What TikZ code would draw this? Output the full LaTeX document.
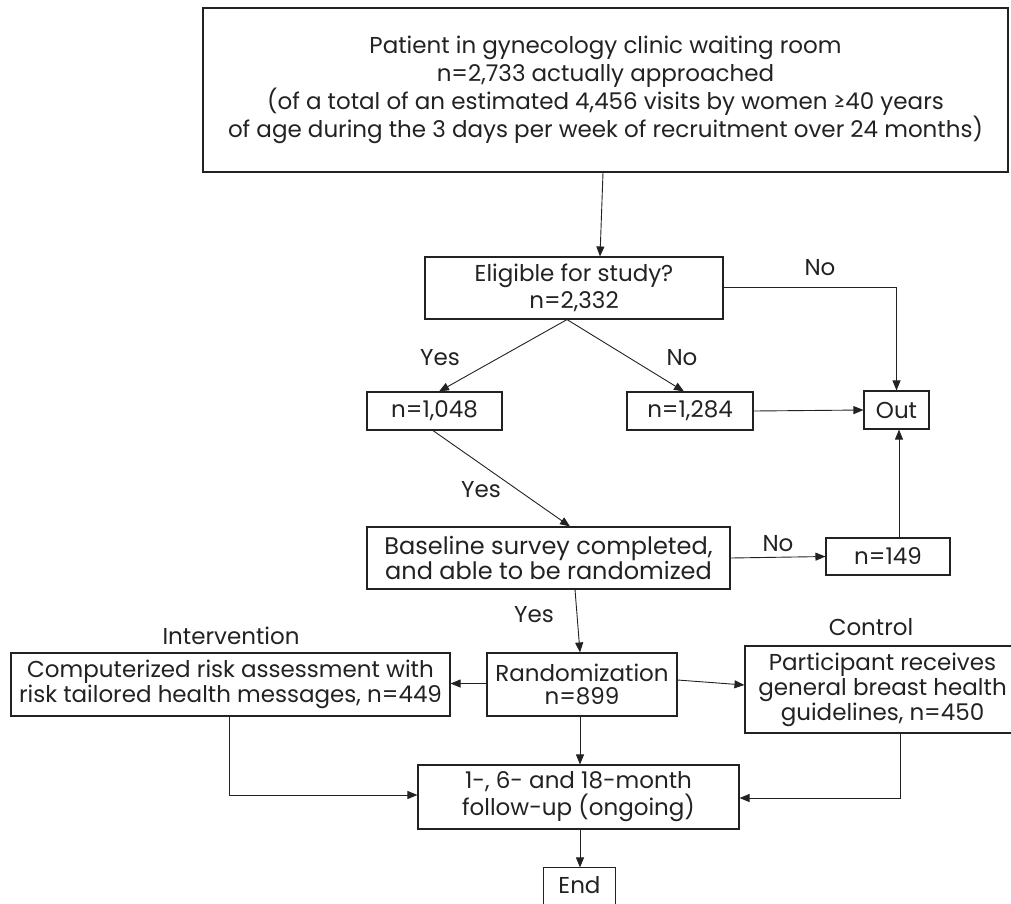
\documentclass[tikz,border=0pt]{standalone}
\usepackage{fontspec}
\setmainfont{Poppins}
\usetikzlibrary{arrows.meta,calc}
\definecolor{ink}{HTML}{222222}
\begin{document}
\begin{tikzpicture}[x=1pt,y=-1pt,
  box/.style={draw=ink,line width=1.1pt,align=center,inner sep=0pt,text=ink,
    font=\fontsize{23}{25}\selectfont},
  lab/.style={text=ink,inner sep=0pt,font=\fontsize{23}{25}\selectfont},
  conn/.style={draw=ink,line width=0.9pt,-{Triangle[length=10pt,width=8pt]}}]
\useasboundingbox (0,0) rectangle (1011,903);
\node[box,minimum width=805pt,minimum height=164pt,font=\fontsize{23}{28}\selectfont] (top) at (605.5,90)
  {Patient in gynecology clinic waiting room\\ n=2,733 actually approached\\
   (of a total of an estimated 4,456 visits by women ≥40 years\\
   of age during the 3 days per week of recruitment over 24 months)};
\node[box,minimum width=298pt,minimum height=62pt,font=\fontsize{23}{27}\selectfont] (elig) at (574,288) {Eligible for study?\\ n=2,332};
\node[box,minimum width=135pt,minimum height=38pt] (n1048) at (434.5,411) {n=1,048};
\node[box,minimum width=126pt,minimum height=38pt] (n1284) at (690,411) {n=1,284};
\node[box,minimum width=65pt,minimum height=38pt] (out) at (896.5,410) {Out};
\node[box,minimum width=363pt,minimum height=62pt,font=\fontsize{24}{22}\selectfont] (base) at (548.5,558) {Baseline survey completed,\\ and able to be randomized};
\node[box,minimum width=124pt,minimum height=37pt] (n149) at (888,556.5) {n=149};
\node[box,minimum width=439pt,minimum height=63pt] (interv) at (230.5,684.5) {Computerized risk assessment with\\ risk tailored health messages, n=449};
\node[box,minimum width=190pt,minimum height=63pt,font=\fontsize{23}{23}\selectfont] (rand) at (582,684.5) {Randomization\\ n=899};
\node[box,minimum width=275pt,minimum height=87pt] (ctrl) at (882.5,689.5) {Participant receives\\ general breast health\\ guidelines, n=450};
\node[box,minimum width=321pt,minimum height=64pt,font=\fontsize{23}{27}\selectfont] (fu) at (578.5,797) {1-, 6- and 18-month\\ follow-up (ongoing)};
\node[box,draw=none,minimum width=71pt,minimum height=35pt] (end) at (579.5,885.5) {End};
\draw[ink,line width=1.1pt] (end.south west) |- (end.north east) -- (end.south east);

\node[lab] (l1) at (820,268) {No};
\node[lab] (l2) at (440,358) {Yes};
\node[lab] (l3) at (682,358) {No};
\node[lab] (l4) at (481,490) {Yes};
\node[lab] (l5) at (778,544) {No};
\node[lab] (l6) at (534,615) {Yes};
\node[lab] (l7) at (231,636) {Intervention};
\node[lab] (l8) at (871,627) {Control};

\draw[conn] ([xshift=-2.5pt]top.south) -- ([xshift=26pt]elig.north);
\draw[conn] ([yshift=1pt]elig.east) -| (out.north);
\draw[conn] ([xshift=-7pt]elig.south) -- ([xshift=4.5pt]n1048.north);
\draw[conn] ([xshift=-7pt]elig.south) -- ([xshift=-6pt]n1284.north);
\draw[conn] (n1284.east) -- (out.west);
\draw[conn] ([xshift=-1.5pt]n1048.south) -- ([xshift=21.5pt]base.north);
\draw[conn] (base.east) -- (n149.west);
\draw[conn] ([xshift=11pt]n149.north) -- ([xshift=2.5pt]out.south);
\draw[conn] ([xshift=26.5pt]base.south) -- ([xshift=-2pt]rand.north);
\draw[conn] ([yshift=1pt]rand.west) -- ([yshift=1pt]interv.east);
\draw[conn] ([yshift=4.5pt]rand.east) -- ([yshift=4.5pt]ctrl.west);
\draw[conn] ([xshift=-2pt]rand.south) -- ([xshift=-2pt]rand.south |- fu.north);
\draw[conn] ([xshift=-1.5pt]interv.south) |- ([yshift=2pt]fu.west);
\draw[conn] ([xshift=17.5pt]ctrl.south) |- ([yshift=-1pt]fu.east);
\draw[conn] ([xshift=1.5pt]fu.south) -- ([xshift=0.5pt]end.north);
\end{tikzpicture}
\end{document}
